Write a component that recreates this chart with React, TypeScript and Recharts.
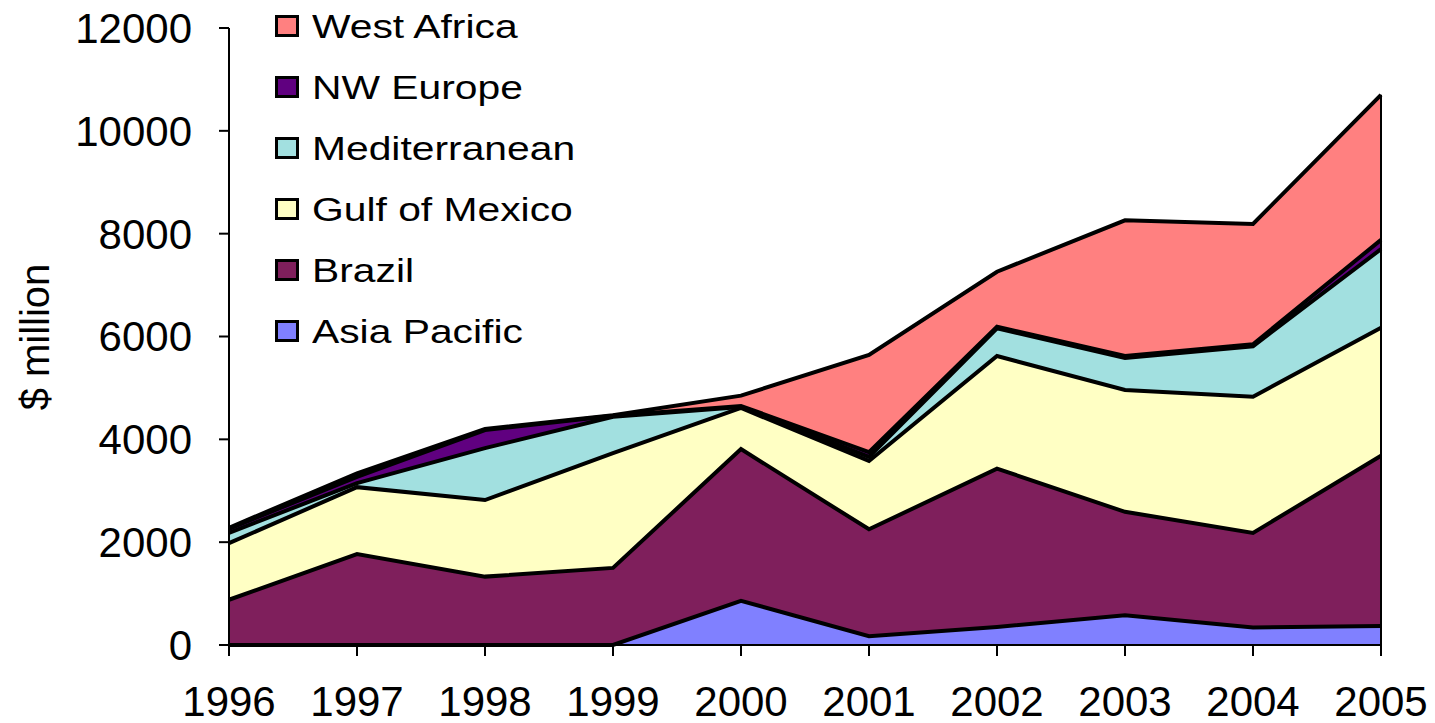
import React from "react";
import { AreaChart, Area, XAxis, YAxis, ReferenceLine, Label } from "recharts";

const years = ["1996", "1997", "1998", "1999", "2000", "2001", "2002", "2003", "2004", "2005"];
const asiaPacific = [0, 0, 0, 0, 860, 170, 350, 580, 340, 370];
const brazil = [880, 1770, 1330, 1500, 2950, 2080, 3080, 2010, 1840, 3310];
const gulfOfMexico = [1100, 1300, 1490, 2230, 800, 1330, 2190, 2370, 2650, 2490];
const mediterranean = [200, 80, 1010, 710, 20, 80, 540, 620, 980, 1530];
const nwEurope = [80, 120, 350, 20, 20, 90, 30, 40, 40, 180];
const westAfrica = [20, 70, 20, 10, 200, 1890, 1070, 2640, 2340, 2820];
const yTicks = [0, 2000, 4000, 6000, 8000, 10000, 12000];

const COLORS = {
  asia: "#8080FF",
  brazil: "#7F1F5C",
  gulf: "#FFFFC4",
  med: "#A2E0E0",
  nw: "#600080",
  wa: "#FF8080",
};

// stacking order: first is bottom
const SERIES = [
  { key: "Asia Pacific", values: asiaPacific, color: COLORS.asia },
  { key: "Brazil", values: brazil, color: COLORS.brazil },
  { key: "Gulf of Mexico", values: gulfOfMexico, color: COLORS.gulf },
  { key: "Mediterranean", values: mediterranean, color: COLORS.med },
  { key: "NW Europe", values: nwEurope, color: COLORS.nw },
  { key: "West Africa", values: westAfrica, color: COLORS.wa },
];

const data = years.map((year, i) => {
  const row: any = { year };
  SERIES.forEach((s) => (row[s.key] = s.values[i]));
  return row;
});

const lastIdx = years.length - 1;
const lastTotal = SERIES.reduce((sum, s) => sum + s.values[lastIdx], 0);

const FONT = '"Liberation Sans", Arial, sans-serif';

const YLabel = () => (
  <text
    x={35}
    y={337}
    transform="rotate(-90 35 337)"
    textAnchor="middle"
    dominantBaseline="central"
    fontSize={40}
    fontFamily={FONT}
    fill="#000"
  >
    $ million
  </text>
);

export default function App() {
  return (
    <div style={{ position: "absolute", left: 0, top: 0, width: 1435, height: 723, background: "#fff" }}>
      <AreaChart width={1435} height={723} data={data} margin={{ top: 28, right: 54, left: 0, bottom: 0 }}>
        <XAxis
          dataKey="year"
          height={78}
          tickSize={11}
          tickMargin={30}
          axisLine={{ stroke: "#000", strokeWidth: 2 }}
          tickLine={{ stroke: "#000", strokeWidth: 2 }}
          tick={{ fill: "#000", fontSize: 42, fontFamily: FONT }}
          interval={0}
        />
        <YAxis
          width={229}
          domain={[0, 12000]}
          ticks={yTicks}
          tickSize={10}
          tickMargin={27}
          axisLine={{ stroke: "#000", strokeWidth: 2 }}
          tickLine={{ stroke: "#000", strokeWidth: 2 }}
          tick={{ fill: "#000", fontSize: 42, fontFamily: FONT }}
        >
          <Label content={<YLabel />} />
        </YAxis>
        {/* fills */}
        {SERIES.map((s) => (
          <Area
            key={"fill-" + s.key}
            type="linear"
            dataKey={s.key}
            stackId="fill"
            fill={s.color}
            fillOpacity={1}
            stroke="none"
            isAnimationActive={false}
          />
        ))}
        {/* outlines drawn on top so they keep full width */}
        {SERIES.map((s) => (
          <Area
            key={"line-" + s.key}
            type="linear"
            dataKey={s.key}
            stackId="line"
            fill="none"
            stroke="#000"
            strokeWidth={4}
            strokeLinejoin="miter"
            isAnimationActive={false}
          />
        ))}
        <ReferenceLine
          segment={[
            { x: years[lastIdx], y: 0 },
            { x: years[lastIdx], y: lastTotal },
          ]}
          stroke="#000"
          strokeWidth={2}
        />
      </AreaChart>

      {/* Legend */}
      <div style={{ position: "absolute", left: 275, top: 0, fontFamily: FONT }}>
        {[...SERIES].reverse().map((s, i) => (
          <div
            key={s.key}
            style={{ position: "absolute", top: 26 + i * 61, left: 0, height: 0, whiteSpace: "nowrap" }}
          >
            <div
              style={{
                position: "absolute",
                left: 0,
                top: -11,
                width: 18,
                height: 16,
                background: s.color,
                border: "3px solid #000",
              }}
            />
            <div
              style={{
                position: "absolute",
                left: 37,
                top: -20,
                fontSize: 34,
                lineHeight: "40px",
                color: "#000",
                transform: "scaleX(1.2)",
                transformOrigin: "left center",
              }}
            >
              {s.key}
            </div>
          </div>
        ))}
      </div>
    </div>
  );
}
